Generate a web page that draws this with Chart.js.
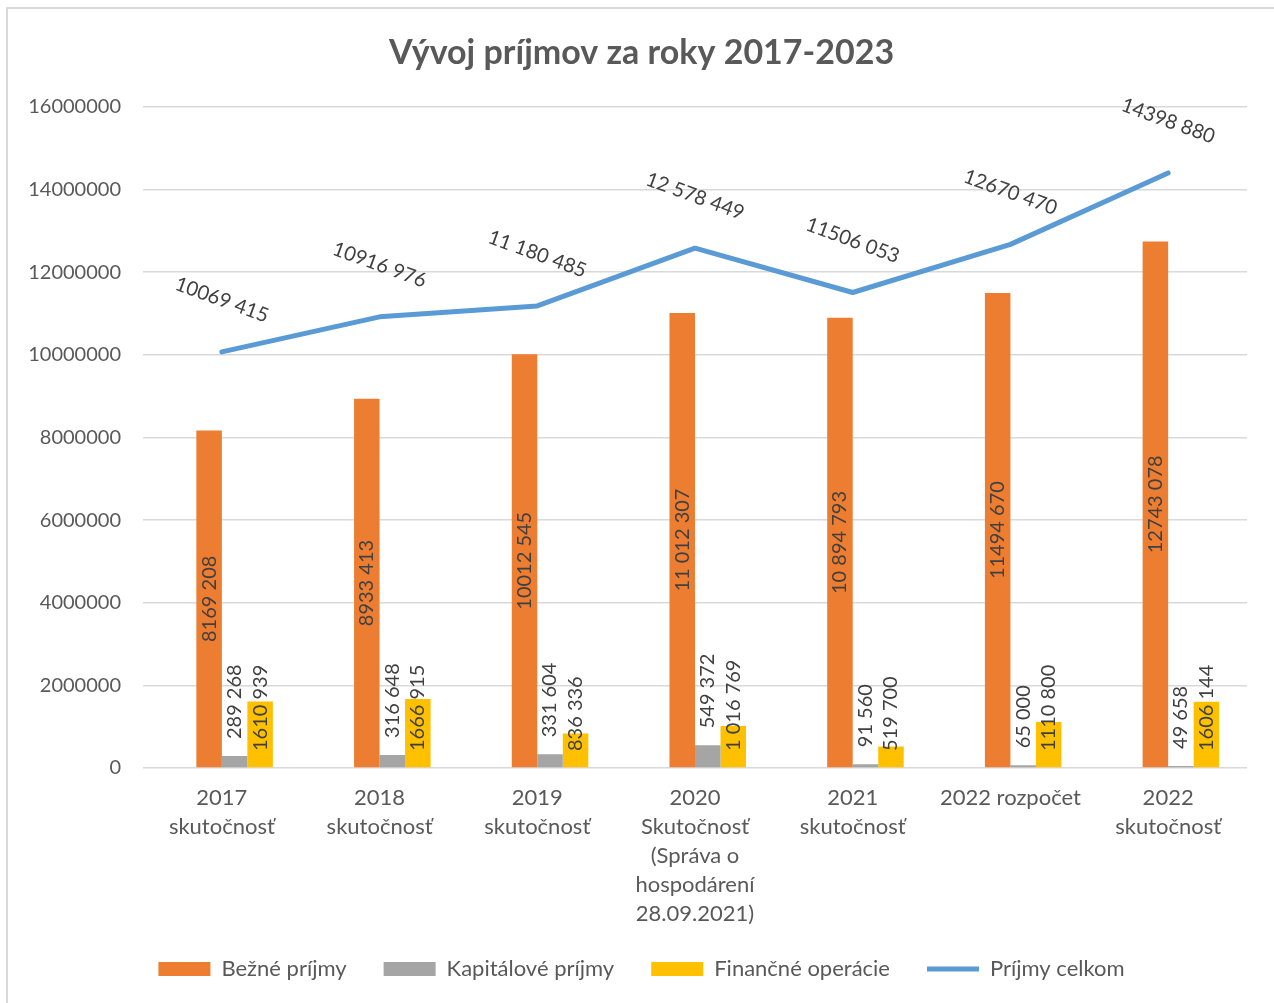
<!DOCTYPE html>
<html lang="sk">
<head>
<meta charset="utf-8">
<title>Vývoj príjmov za roky 2017-2023</title>
<script src="https://cdn.jsdelivr.net/npm/chart.js@4.4.1/dist/chart.umd.min.js"></script>
<style>
  html, body { margin: 0; padding: 0; background: #fff; overflow: hidden; }
  #wrap { position: relative; width: 1274px; height: 1003px; }
  #frame { position: absolute; left: 6px; top: 7px; width: 1400px; height: 1200px; border: 2px solid #d9d9d9; pointer-events: none; }
  canvas { position: absolute; left: 0; top: 0; }
</style>
</head>
<body>
<div id="wrap">
  <canvas id="prijmy" width="1274" height="1003"></canvas>
  <div id="frame"></div>
</div>
<script>
const ctx = document.getElementById('prijmy');

const labels = [
  ['2017', 'skutočnosť'],
  ['2018', 'skutočnosť'],
  ['2019', 'skutočnosť'],
  ['2020', 'Skutočnosť', '(Správa o', 'hospodárení', '28.09.2021)'],
  ['2021', 'skutočnosť'],
  '2022 rozpočet',
  ['2022', 'skutočnosť']
];

const bezne = [8169208, 8933413, 10012545, 11012307, 10894793, 11494670, 12743078];
const kapitalove = [289268, 316648, 331604, 549372, 91560, 65000, 49658];
const financne = [1610939, 1666915, 836336, 1016769, 519700, 1110800, 1606144];
const celkom = [10069415, 10916976, 11180485, 12578449, 11506053, 12670470, 14398880];

// labels as printed in the original (spacing is not consistent)
const bezneText = ['8169 208', '8933 413', '10012 545', '11 012 307', '10 894 793', '11494 670', '12743 078'];
const kapitaloveText = ['289 268', '316 648', '331 604', '549 372', '91 560', '65 000', '49 658'];
const financneText = ['1610 939', '1666 915', '836 336', '1 016 769', '519 700', '1110 800', '1606 144'];
const celkomText = ['10069 415', '10916 976', '11 180 485', '12 578 449', '11506 053', '12670 470', '14398 880'];

const yTicks = [0, 2000000, 4000000, 6000000, 8000000, 10000000, 12000000, 14000000, 16000000];

const textColor = '#595959';

const valueLabels = {
  id: 'valueLabels',
  afterDatasetsDraw(chart) {
    const c = chart.ctx;
    const base = chart.scales.y.getPixelForValue(0);
    c.save();
    c.fillStyle = '#404040';
    c.font = '20px Lato';
    chart.data.datasets.forEach((ds, i) => {
      if (!ds.valueText) return;
      const meta = chart.getDatasetMeta(i);
      meta.data.forEach((el, j) => {
        c.save();
        c.textBaseline = 'middle';
        if (ds.type === 'line') {
          c.translate(el.x, el.y - 52);
          c.rotate(20 * Math.PI / 180);
          c.textAlign = 'center';
        } else if (ds.labelPos === 'center') {
          c.translate(el.x, (el.y + el.base) / 2);
          c.rotate(-Math.PI / 2);
          c.textAlign = 'center';
        } else if (ds.labelPos === 'end') {
          c.translate(el.x, el.y - 17);
          c.rotate(-Math.PI / 2);
          c.textAlign = 'left';
        } else {
          c.translate(el.x, base - 17);
          c.rotate(-Math.PI / 2);
          c.textAlign = 'left';
        }
        c.fillText(ds.valueText[j], 0, 0);
        c.restore();
      });
    });
    c.restore();
  }
};

// tick labels may run outside their axis box (long 2020 label, wide y labels)
const noLabelClip = (scale) => { scale._computeLabelArea = () => undefined; };

const prijmy = new Chart(ctx, {
  type: 'bar',
  data: {
    labels: labels,
    datasets: [
      {
        // empty slot, keeps the columns right of the category centre like in Excel
        label: '',
        data: labels.map(() => null),
        backgroundColor: 'rgba(0,0,0,0)',
        order: 1
      },
      {
        label: 'Bežné príjmy',
        data: bezne,
        valueText: bezneText,
        labelPos: 'center',
        backgroundColor: '#ED7D31',
        pointStyle: 'rect',
        order: 1
      },
      {
        label: 'Kapitálové príjmy',
        data: kapitalove,
        valueText: kapitaloveText,
        labelPos: 'end',
        backgroundColor: '#A5A5A5',
        pointStyle: 'rect',
        order: 1
      },
      {
        label: 'Finančné operácie',
        data: financne,
        valueText: financneText,
        labelPos: 'base',
        backgroundColor: '#FFC000',
        pointStyle: 'rect',
        order: 1
      },
      {
        type: 'line',
        label: 'Príjmy celkom',
        data: celkom,
        valueText: celkomText,
        borderColor: '#5B9BD5',
        backgroundColor: '#5B9BD5',
        borderWidth: 5,
        borderCapStyle: 'round',
        borderJoinStyle: 'round',
        pointRadius: 0,
        pointStyle: 'line',
        tension: 0,
        order: 0
      }
    ]
  },
  options: {
    responsive: false,
    animation: false,
    font: { family: 'Lato' },
    layout: {
      padding: { left: 36, right: 27, top: 0, bottom: 13 }
    },
    datasets: {
      bar: {
        categoryPercentage: 0.647,
        barPercentage: 1,
        grouped: true
      }
    },
    plugins: {
      title: {
        display: true,
        text: 'Vývoj príjmov za roky 2017-2023',
        color: textColor,
        font: { family: 'Lato', size: 34, weight: 'bold' },
        padding: { top: 33, bottom: 33 }
      },
      legend: {
        position: 'bottom',
        labels: {
          usePointStyle: true,
          pointStyleWidth: 52,
          boxHeight: 14,
          padding: 37,
          color: textColor,
          font: { family: 'Lato', size: 22 },
          filter: (item) => item.text !== '',
          sort: (a, b) => a.datasetIndex - b.datasetIndex
        }
      },
      tooltip: { enabled: false }
    },
    scales: {
      x: {
        grid: { display: false },
        border: { display: false },
        ticks: {
          color: textColor,
          font: { family: 'Lato', size: 22, lineHeight: 1.32 },
          padding: 7,
          maxRotation: 0,
          autoSkip: false
        },
        afterFit: (scale) => {
          scale.height = 153;
          noLabelClip(scale);
        }
      },
      y: {
        min: 0,
        max: 16000000,
        afterBuildTicks: (scale) => { scale.ticks = yTicks.map(v => ({ value: v })); },
        grid: { color: '#d9d9d9', lineWidth: 1.5, drawTicks: false },
        border: { display: false },
        ticks: {
          color: textColor,
          font: { family: 'Lato', size: 20 },
          padding: 22,
          callback: (value) => String(value)
        },
        afterFit: (scale) => {
          scale.width = 107;
          noLabelClip(scale);
        }
      }
    }
  },
  plugins: [valueLabels]
});
</script>
</body>
</html>
